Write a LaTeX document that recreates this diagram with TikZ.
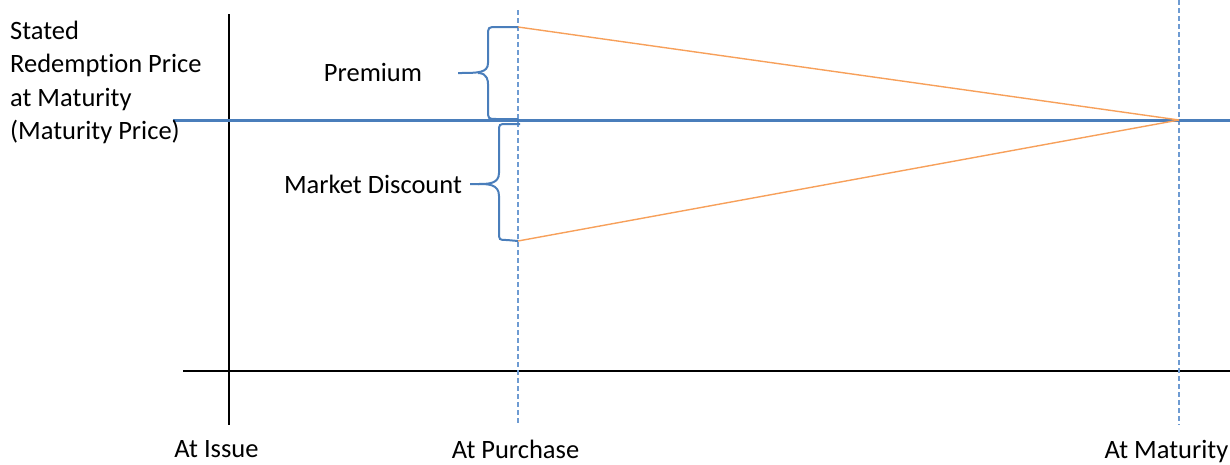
\documentclass[tikz,border=0pt]{standalone}
\usepackage{fontspec}
\setmainfont[Ligatures=CommonOff]{Carlito}
\definecolor{refblue}{RGB}{74,126,187}
\definecolor{dashblue}{RGB}{110,155,210}
\definecolor{slopeorange}{RGB}{247,160,90}
\begin{document}
\begin{tikzpicture}[x=1pt,y=-1pt,
  lbl/.style={inner sep=0pt,font=\fontsize{26.5}{31}\selectfont},
  axis/.style={line width=2.8pt,black},
  guide/.style={dashblue,line width=1.1pt,dash pattern=on 5pt off 3pt},
  slope/.style={slopeorange,line width=1.4pt},
  brace/.style={refblue,line width=2pt}]
\useasboundingbox (0,0) rectangle (1230,464);

% axes
\coordinate (ytop) at (229,14);
\coordinate (ybot) at (229,425);
\coordinate (xl) at (183,371);
\coordinate (xr) at (1230,371);
\draw[axis] (ytop) -- (ybot);
\draw[axis] (xl) -- (xr);

% time guides
\coordinate (ptop) at (518,10);
\coordinate (pbot) at (518,425);
\coordinate (mtop) at (1179,0);
\coordinate (mbot) at (1179,425);
\draw[guide] (ptop) -- (pbot);
\draw[guide] (mtop) -- (mbot);

% maturity price level
\coordinate (rl) at (173,120);
\coordinate (rr) at (1230,120);
\draw[refblue,line width=3pt] (rl) -- (rr);

% price paths converging at maturity
\coordinate (prem) at (518,27);
\coordinate (disc) at (518,241);
\coordinate (mat) at (1179,120);
\draw[slope] (prem) -- (mat);
\draw[slope] (disc) -- (mat);

% braces
\coordinate (b1) at (458,73);
\coordinate (b2) at (478,184);
\draw[brace] (prem) -- (497,27) .. controls (488,27) .. (488,36) -- (488,63)
  .. controls (488,73) and (478,73) .. (b1);
\draw[brace] (b1) ++(20,0) .. controls (488,73) and (488,82) .. (488,84) -- (488,110)
  .. controls (488,119) .. (497,119) -- (518,119);
\draw[brace] (520,124) -- (507,124) .. controls (499,124) .. (499,132) -- (499,173)
  .. controls (499,184) and (488,184) .. (b2) -- (470,184);
\draw[brace] (b2) .. controls (488,184) and (499,184) .. (499,196) -- (499,232)
  .. controls (499,240) .. (507,240) -- (disc);

% labels
\node[lbl,anchor=base west] (s1) at (10,39) {Stated};
\node[lbl,anchor=base west] (s2) at (10,72.5) {Redemption Price};
\node[lbl,anchor=base west] (s3) at (10,106) {at Maturity};
\node[lbl,anchor=base west] (s4) at (10,139.5) {(Maturity Price)};
\node[lbl,anchor=base] (premium) at (373,81) {Premium};
\node[lbl,anchor=base] (mdisc) at (373,193) {Market Discount};
\node[lbl,anchor=base] (issue) at (216.5,457) {At Issue};
\node[lbl,anchor=base] (purch) at (515.5,458) {At Purchase};
\node[lbl,anchor=base] (matur) at (1166.5,458) {At Maturity};
\end{tikzpicture}
\end{document}
